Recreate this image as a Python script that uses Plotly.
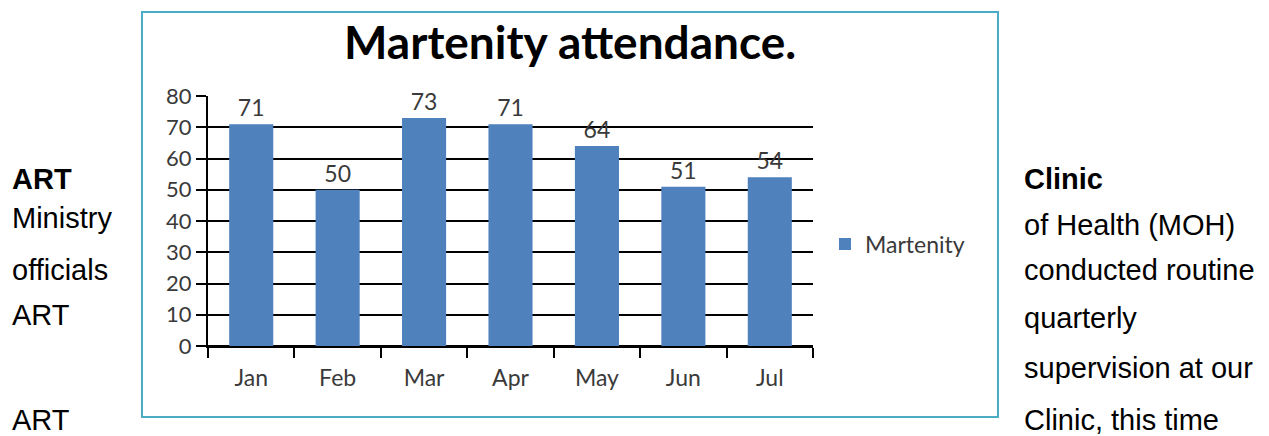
import plotly.graph_objects as go

W, H = 1269, 436
OX, OY = 8, 8  # default page body margin offsets the figure

months = ["Jan", "Feb", "Mar", "Apr", "May", "Jun", "Jul"]
attendance = [71, 50, 73, 71, 64, 51, 54]
series_name = "Martenity"
chart_title = "Martenity attendance."
y_ticks = [0, 10, 20, 30, 40, 50, 60, 70, 80]

left_text = [("<b>ART</b>", 179), ("Ministry", 218), ("officials", 270), ("ART", 315), ("ART", 420)]
right_text = [("<b>Clinic</b>", 179), ("of Health (MOH)", 225), ("conducted routine", 270),
              ("quarterly", 318), ("supervision at our", 368), ("Clinic, this time", 420)]


def px(x):
    return (x - OX) / W


def py(y):
    return 1 - (y - OY) / H


chart_font = "Lato, 'Open Sans', sans-serif"
doc_font = "'Liberation Sans', Arial, sans-serif"
ink = "#3a3a3a"

fig = go.Figure()
fig.add_trace(go.Bar(
    x=months, y=attendance, name=series_name,
    marker=dict(color="#4F81BD", line=dict(width=0)),
    text=[str(v) for v in attendance], textposition="outside",
    textfont=dict(family=chart_font, size=23, color=ink),
    cliponaxis=False,
))

fig.update_layout(
    width=W, height=H, autosize=False,
    margin=dict(l=0, r=0, t=0, b=0, pad=0),
    paper_bgcolor="white", plot_bgcolor="white",
    bargap=0.49,
    showlegend=True,
    legend=dict(x=px(825), y=py(244), xanchor="left", yanchor="middle",
                font=dict(family=chart_font, size=23, color=ink),
                bgcolor="rgba(0,0,0,0)", itemwidth=30),
    xaxis=dict(domain=[px(208), px(813)], tickson="boundaries", ticks="outside",
               ticklen=10, tickwidth=2, tickcolor="black",
               showline=True, linecolor="black", linewidth=2,
               tickfont=dict(family=chart_font, size=23, color=ink),
               ticklabelstandoff=10,
               showgrid=False, automargin=False),
    yaxis=dict(domain=[py(346), py(96)], range=[0, 80], tickvals=y_ticks,
               ticks="outside", ticklen=10, tickwidth=2, tickcolor="black",
               showline=True, linecolor="black", linewidth=2,
               showgrid=True, gridcolor="black", gridwidth=1.6,
               zeroline=True, zerolinecolor="black", zerolinewidth=2,
               tickfont=dict(family=chart_font, size=22, color=ink),
               ticklabelstandoff=0, automargin=False),
)

fig.add_shape(type="rect", xref="paper", yref="paper",
              x0=px(142), x1=px(998), y0=py(417), y1=py(12),
              line=dict(color="#4BACC6", width=2), layer="below")

fig.add_annotation(text="<b>" + chart_title + "</b>", xref="paper", yref="paper",
                   x=px(570), y=py(42), xanchor="center", yanchor="middle",
                   showarrow=False, font=dict(family=chart_font, size=46, color="black"))

for t, y in left_text:
    fig.add_annotation(text=t, xref="paper", yref="paper", x=px(10), y=py(y),
                       xanchor="left", yanchor="middle", showarrow=False,
                       font=dict(family=doc_font, size=29, color="black"))
for t, y in right_text:
    fig.add_annotation(text=t, xref="paper", yref="paper", x=px(1022), y=py(y),
                       xanchor="left", yanchor="middle", showarrow=False,
                       font=dict(family=doc_font, size=29, color="black"))

fig.write_html("out.html")
